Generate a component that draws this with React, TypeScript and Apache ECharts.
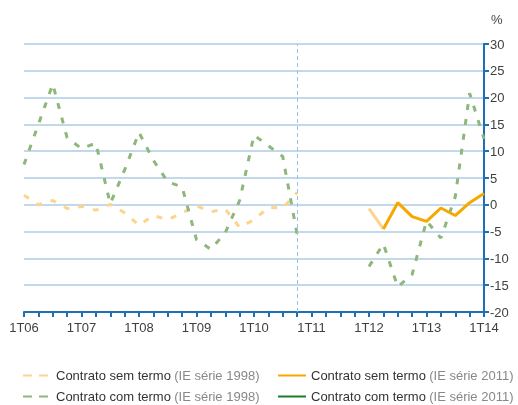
import React, { useEffect, useRef } from "react";
import * as echarts from "echarts";

const categories = [
  "1T06", "2T06", "3T06", "4T06",
  "1T07", "2T07", "3T07", "4T07",
  "1T08", "2T08", "3T08", "4T08",
  "1T09", "2T09", "3T09", "4T09",
  "1T10", "2T10", "3T10", "4T10",
  "1T11", "2T11", "3T11", "4T11",
  "1T12", "2T12", "3T12", "4T12",
  "1T13", "2T13", "3T13", "4T13",
  "1T14",
];

// IE série 1998 (1T06 - 4T10)
const semTermo1998 = [1.8, 0, 0.8, -0.7, -0.3, -1.0, 0.1, -1.5, -3.8, -2.0, -2.8, -1.5, -0.2, -1.3, -0.8, -4.2, -2.8, -0.5, -0.6, 2.3];
const comTermo1998 = [7.5, 15, 22.5, 12.5, 10.5, 11.5, 0.2, 6.5, 13.5, 8.3, 4.3, 3.3, -6.5, -8.3, -5.2, 0.8, 13.0, 11.0, 9.0, -5.5];
// 1T12 - 1T14
const comTermoLate = [-11.5, -7.3, -15.3, -13.0, -3.0, -6.2, 1.5, 20.8, 12.3];
const semTermoFirst = [-0.7, -4.5]; // 1T12 - 2T12
const semTermo2011 = [-4.5, 0.4, -2.2, -3.1, -0.6, -2.0, 0.4, 2.1]; // 2T12 - 1T14
const comTermo2011: (number | null)[] = [];

const yTicks = { min: -20, max: 30, interval: 5 };
const breakCategory = "4T10";

const NAMES = {
  sem98: "Contrato sem termo (IE série 1998)",
  com98: "Contrato com termo (IE série 1998)",
  sem11: "Contrato sem termo (IE série 2011)",
  com11: "Contrato com termo (IE série 2011)",
};

const COLORS = {
  sem98: "#fdd48c",
  com98: "#8db77b",
  sem11: "#f6a800",
  com11: "#1b7a2c",
  axis: "#1f70b2",
  grid: "#aecde6",
  vline: "#96c4e8",
};

function place(values: (number | null)[], start: number): (number | null)[] {
  const arr: (number | null)[] = categories.map(() => null);
  values.forEach((v, i) => {
    arr[start + i] = v;
  });
  return arr;
}

const FONT = "Liberation Sans, Arial, sans-serif";

export default function App() {
  const ref = useRef<HTMLDivElement>(null);
  useEffect(() => {
    if (!ref.current) return;
    const chart = echarts.init(ref.current, null, { renderer: "svg" });
    const i12 = categories.indexOf("1T12");
    const com98Data = place(comTermo1998, 0);
    comTermoLate.forEach((v, i) => (com98Data[i12 + i] = v));

    const legendFormatter = (name: string) => {
      const k = name.indexOf(" (");
      return `{a|${name.slice(0, k)}} {b|${name.slice(k + 1)}}`;
    };
    const legendText = {
      fontFamily: FONT,
      rich: {
        a: { color: "#333", fontSize: 13, fontFamily: FONT },
        b: { color: "#888", fontSize: 13, fontFamily: FONT },
      },
    };
    const legendBase = {
      top: 369,
      height: 40,
      padding: 0,
      orient: "vertical",
      itemWidth: 28,
      itemHeight: 14,
      itemGap: 8,
      itemStyle: { opacity: 0 },
      formatter: legendFormatter,
      textStyle: legendText,
    };

    chart.setOption({
      animation: false,
      textStyle: { fontFamily: FONT },
      grid: { left: 24, right: 34, top: 44, bottom: 93 },
      graphic: [
        {
          type: "text",
          left: 491,
          top: 13,
          style: { text: "%", fill: "#444", fontSize: 13, fontFamily: FONT },
        },
      ],
      legend: [
        {
          ...legendBase,
          left: 22,
          data: [
            { name: NAMES.sem98, lineStyle: { type: [9, 7] } },
            { name: NAMES.com98, lineStyle: { type: [9, 7] } },
          ],
        },
        {
          ...legendBase,
          left: 277,
          data: [NAMES.sem11, NAMES.com11],
        },
      ],
      xAxis: {
        type: "category",
        data: categories,
        boundaryGap: false,
        axisLine: { show: true, onZero: false, lineStyle: { color: COLORS.axis, width: 2 } },
        axisTick: { show: true, interval: 0, length: 5, lineStyle: { color: COLORS.axis, width: 2 } },
        axisLabel: { interval: 3, color: "#404040", fontSize: 13, margin: 9, fontFamily: FONT },
        splitLine: { show: false },
      },
      yAxis: {
        type: "value",
        position: "right",
        min: yTicks.min,
        max: yTicks.max,
        interval: yTicks.interval,
        axisLine: { show: true, lineStyle: { color: COLORS.axis, width: 2 } },
        axisTick: { show: true, length: 5, lineStyle: { color: COLORS.axis, width: 2 } },
        axisLabel: { color: "#404040", fontSize: 13, margin: 6, fontFamily: FONT },
        splitLine: { show: true, lineStyle: { color: COLORS.grid, width: 1.5 } },
      },
      series: [
        {
          name: NAMES.sem98,
          type: "line",
          data: place(semTermo1998, 0),
          symbol: "none",
          connectNulls: false,
          color: COLORS.sem98,
          lineStyle: { color: COLORS.sem98, width: 3, type: [6, 9] },
        },
        {
          name: NAMES.com98,
          type: "line",
          data: com98Data,
          symbol: "none",
          connectNulls: false,
          color: COLORS.com98,
          lineStyle: { color: COLORS.com98, width: 3, type: [6, 9] },
          markLine: {
            silent: true,
            symbol: "none",
            label: { show: false },
            lineStyle: { color: COLORS.vline, type: [4, 3], width: 1 },
            data: [{ xAxis: breakCategory }],
          },
        },
        {
          name: "first",
          type: "line",
          data: place(semTermoFirst, i12),
          symbol: "none",
          color: COLORS.sem98,
          lineStyle: { color: COLORS.sem98, width: 3 },
        },
        {
          name: NAMES.sem11,
          type: "line",
          data: place(semTermo2011, i12 + 1),
          symbol: "none",
          color: COLORS.sem11,
          lineStyle: { color: COLORS.sem11, width: 3 },
        },
        {
          name: NAMES.com11,
          type: "line",
          data: place(comTermo2011, i12),
          symbol: "none",
          color: COLORS.com11,
          lineStyle: { color: COLORS.com11, width: 3 },
        },
      ],
    });
    return () => chart.dispose();
  }, []);
  return (
    <div
      ref={ref}
      style={{ position: "fixed", left: 0, top: 0, width: 518, height: 405 }}
    />
  );
}
